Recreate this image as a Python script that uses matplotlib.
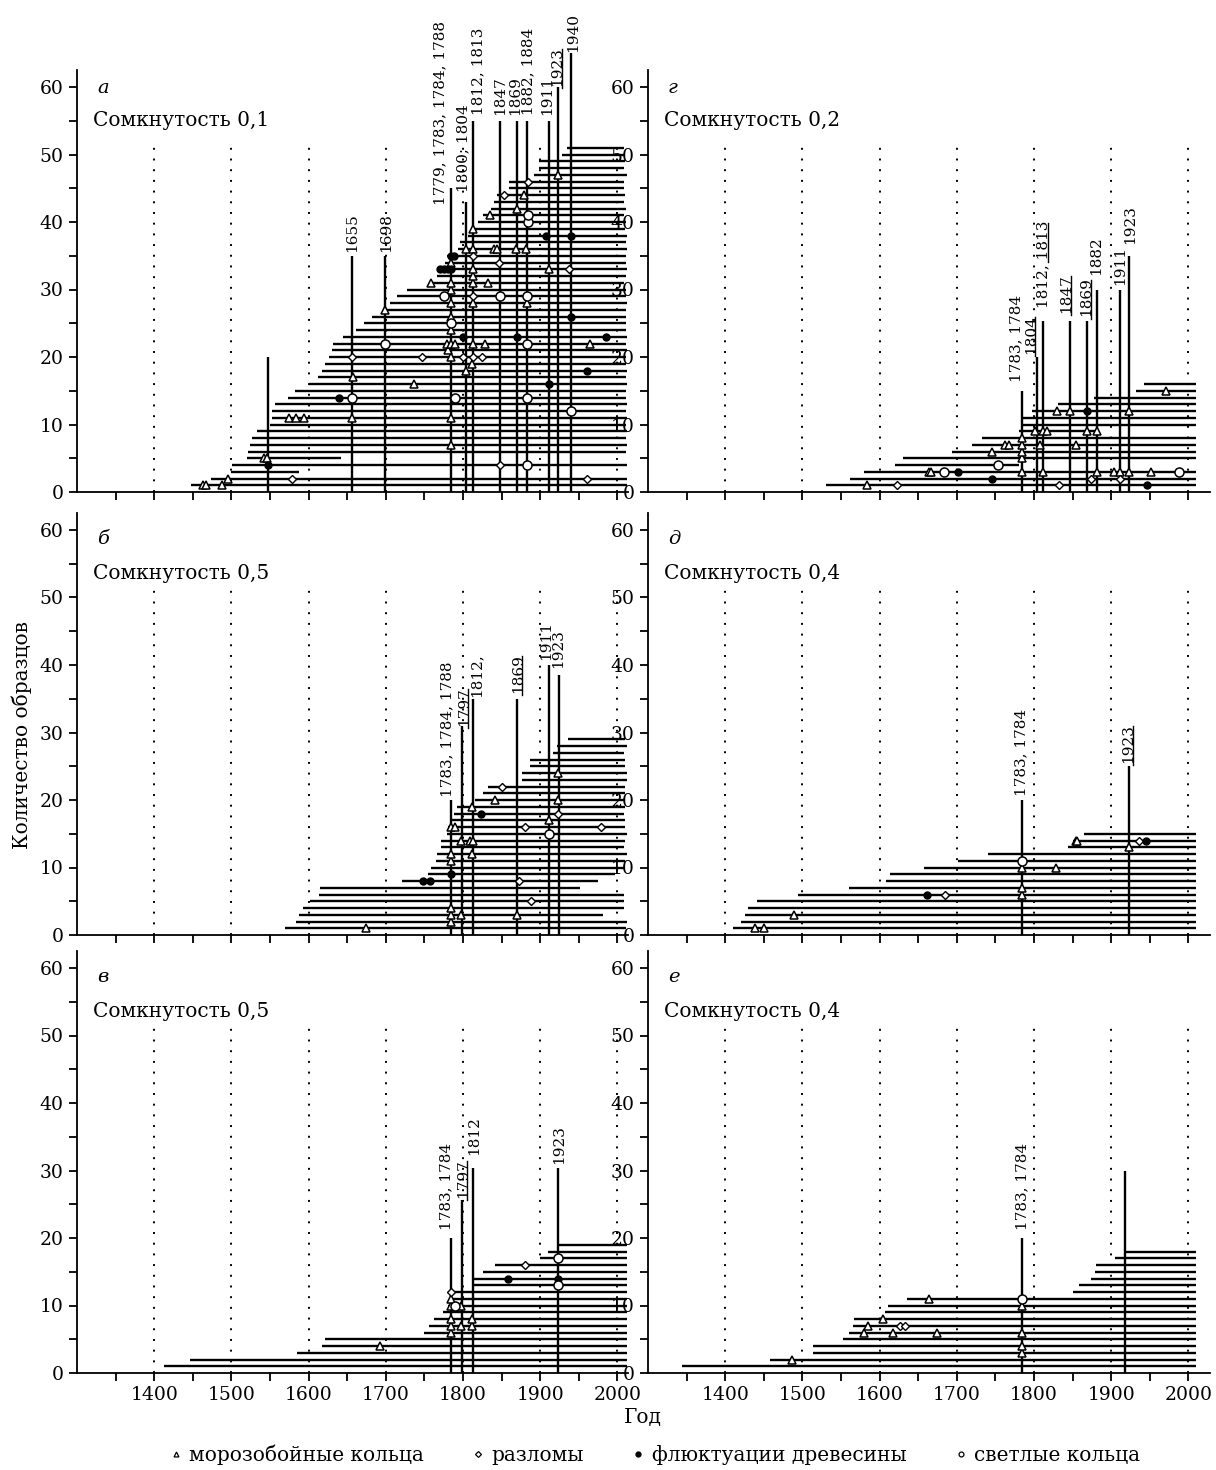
"""
Frost rings / fractures / wood fluctuations / light rings by sample,
six stands (а-е), rebuilt with matplotlib.
"""
import matplotlib
matplotlib.use("Agg")
import matplotlib.pyplot as plt
from matplotlib.lines import Line2D

plt.rcParams["font.family"] = ["DejaVu Serif"]

# ============================================================
# Panel а  (Сомкнутость 0,1)
# ============================================================
A_START = [1448, 1474, 1500, 1501, 1520, 1522, 1524, 1527, 1533, 1550,
           1553, 1553, 1556, 1573, 1583, 1600, 1612, 1618, 1621, 1626,
           1630, 1632, 1644, 1661, 1672, 1682, 1699, 1705, 1714, 1727,
           1757, 1766, 1768, 1777, 1779, 1794, 1796, 1807, 1811, 1820,
           1826, 1836, 1840, 1844, 1860, 1860, 1892, 1898, 1898, 1928, 1935]
A_END = [2012, 2012, 1588, 2012, 1642, 2011, 2012, 2011, 2012, 2011,
         2012, 2011, 2012, 2011, 2011, 2012, 2011, 2012, 2011, 2011,
         2012, 2011, 2012, 2011, 2011, 2011, 2011, 2012, 2011, 2011,
         2009, 2011, 2012, 2011, 2011, 2012, 2011, 2012, 2010, 2011,
         2009, 2011, 2009, 2010, 2009, 2009, 2012, 2009, 2010, 2010, 2008]
A_TRI_X = [1463, 1467, 1488, 1496, 1542, 1546, 1785,
           1575, 1584, 1594, 1656, 1784,
           1736, 1658, 1804, 1812, 1785, 1780,
           1779, 1784, 1789, 1813, 1829, 1965,
           1785, 1785, 1699, 1785, 1813, 1883,
           1785, 1759, 1785, 1813, 1833, 1813,
           1813, 1911, 1785,
           1804, 1813, 1840, 1844, 1869, 1882,
           1813, 1835, 1870, 1879, 1923]
A_TRI_Y = [1, 1, 1, 2, 5, 5, 7,
           11, 11, 11, 11, 11,
           16, 17, 18, 19, 20, 21,
           22, 22, 22, 22, 22, 22,
           24, 26, 27, 28, 28, 28,
           30, 31, 31, 31, 31, 32,
           33, 33, 34,
           36, 36, 36, 36, 36, 36,
           39, 41, 42, 44, 47]
A_DIA_X = [1579, 1960, 1848, 1656, 1747, 1800, 1813, 1824, 1813, 1937, 1847, 1813, 1853, 1884]
A_DIA_Y = [2, 2, 4, 20, 20, 20, 20, 20, 29, 33, 34, 35, 44, 46]
A_DOT_X = [1547, 1640, 1911, 1960, 1800, 1870, 1985, 1940, 1770, 1775, 1781, 1785, 1784, 1788, 1907, 1940]
A_DOT_Y = [4, 14, 16, 18, 23, 23, 23, 26, 33, 33, 33, 33, 35, 35, 38, 38]
A_CIR_X = [1883, 1940, 1656, 1789, 1883, 1699, 1883, 1785, 1776, 1848, 1883, 1884, 1884]
A_CIR_Y = [4, 12, 14, 14, 14, 22, 22, 25, 29, 29, 29, 40, 41]
A_EV_YEAR = [1547, 1656, 1699, 1784, 1804, 1813, 1848, 1870, 1883, 1911, 1923, 1940]
A_EV_TOP = [20, 35, 35, 45, 43, 55, 55, 55, 55, 55, 60, 65]
A_EV_TEXT = ["", "1655", "1698", "1779, 1783, 1784, 1788", "1800; 1804", "1812, 1813",
             "1847", "1869", "1882, 1884", "1911", "1923", "1940"]
A_EV_UNDER = ["", "", "", "", "", "", "", "", "", "", "1923", ""]

# ============================================================
# Panel б  (Сомкнутость 0,5)
# ============================================================
B_START = [1569, 1584, 1587, 1593, 1602, 1613, 1615, 1721, 1755, 1759,
           1765, 1766, 1771, 1772, 1779, 1780, 1785, 1788, 1792, 1815,
           1826, 1832, 1876, 1876, 1887, 1887, 1916, 1922, 1936]
B_END = [2011, 2012, 1981, 2008, 2008, 2009, 1951, 1975, 1997, 2009,
         2010, 2012, 2009, 2010, 2012, 2010, 2010, 2009, 2010, 2009,
         2010, 2010, 2012, 2012, 2010, 2010, 2009, 2012, 2010]
B_TRI_X = [1674, 1784, 1784, 1797, 1870, 1784, 1784, 1784, 1812, 1797,
           1809, 1813, 1784, 1789, 1911, 1812, 1841, 1923, 1923]
B_TRI_Y = [1, 2, 3, 3, 3, 4, 11, 12, 12, 14,
           14, 14, 16, 16, 17, 19, 20, 20, 24]
B_DIA_X = [1888, 1872, 1880, 1979, 1923, 1850]
B_DIA_Y = [5, 8, 16, 16, 18, 22]
B_DOT_X = [1748, 1757, 1784, 1823]
B_DOT_Y = [8, 8, 9, 18]
B_CIR_X = [1911]
B_CIR_Y = [15]
B_EV_YEAR = [1784, 1799, 1812.5, 1870, 1911, 1924]
B_EV_TOP = [20, 31, 35, 35, 40, 38.5]
B_EV_TEXT = ["1783, 1784, 1788", "1797", "1812,", "1869", "1911", "1923"]
B_EV_UNDER = ["", "1797", "", "1869", "", ""]

# ============================================================
# Panel в  (Сомкнутость 0,5)
# ============================================================
V_START = [1413, 1446, 1585, 1617, 1621, 1750, 1756, 1762, 1774, 1780,
           1783, 1788, 1813, 1813, 1826, 1842, 1900, 1910, 1923]
V_END = [2012, 2012, 2012, 2012, 2012, 2012, 2012, 2012, 2012, 2012,
         2012, 2012, 2012, 2012, 2012, 2012, 2012, 2012, 2012]
V_TRI_X = [1693, 1784, 1784, 1797, 1812, 1784, 1812, 1784, 1797, 1784]
V_TRI_Y = [4, 6, 7, 7, 7, 8, 8, 10, 10, 11]
V_DIA_X = [1784, 1880]
V_DIA_Y = [12, 16]
V_DOT_X = [1858, 1923]
V_DOT_Y = [14, 14]
V_CIR_X = [1790, 1923, 1923]
V_CIR_Y = [10, 13, 17]
V_EV_YEAR = [1784, 1799, 1812.5, 1923]
V_EV_TOP = [20, 25.6, 30.3, 30.3]
V_EV_TEXT = ["1783, 1784", "1797", "1812", "1923"]
V_EV_UNDER = ["", "1797", "", ""]

# ============================================================
# Panel г  (Сомкнутость 0,2)
# ============================================================
G_START = [1530, 1562, 1580, 1620, 1630, 1694, 1720, 1733, 1781, 1785,
           1785, 1798, 1831, 1878, 1932, 1943]
G_END = [2010, 2010, 2010, 1781, 2010, 2010, 2010, 2010, 1881, 2010,
         2010, 2010, 2010, 2010, 2010, 2010]
G_TRI_X = [1584, 1664, 1667, 1784, 1812, 1882, 1904, 1912, 1923, 1952,
           1784, 1746, 1784, 1763, 1768, 1784, 1808, 1854, 1784,
           1801, 1812, 1817, 1869, 1882, 1830, 1847, 1923, 1971]
G_TRI_Y = [1, 3, 3, 3, 3, 3, 3, 3, 3, 3,
           5, 6, 6, 7, 7, 7, 7, 7, 8,
           9, 9, 9, 9, 9, 12, 12, 12, 15]
G_DIA_X = [1622, 1832, 1874, 1912]
G_DIA_Y = [1, 1, 2, 2]
G_DOT_X = [1946, 1746, 1702, 1869]
G_DOT_Y = [1, 2, 3, 12]
G_CIR_X = [1684, 1988, 1754]
G_CIR_Y = [3, 3, 4]
G_EV_YEAR = [1784, 1804, 1812, 1847, 1869, 1882, 1912, 1923]
G_EV_TOP = [15, 20, 25.4, 25.4, 25.4, 30, 30, 35]
G_EV_TEXT = ["1783, 1784", "1804", "1812, 1813", "1847", "1869", "1882", "1911", "1923"]
G_EV_UNDER = ["", "1804", "1813", "1847", "1869", "", "", ""]

# ============================================================
# Panel д  (Сомкнутость 0,4)
# ============================================================
D_START = [1410, 1420, 1426, 1430, 1441, 1494, 1560, 1608, 1613, 1657,
           1702, 1740, 1844, 1851, 1865]
D_END = [2010, 2010, 2010, 2010, 2010, 2010, 2010, 2010, 2010, 2010,
         2010, 2010, 2010, 2010, 2010]
D_TRI_X = [1438, 1450, 1489, 1784, 1784, 1784, 1828, 1923, 1854, 1856]
D_TRI_Y = [1, 1, 3, 6, 7, 10, 10, 13, 14, 14]
D_DIA_X = [1685, 1936]
D_DIA_Y = [6, 14]
D_DOT_X = [1661, 1945]
D_DOT_Y = [6, 14]
D_CIR_X = [1784]
D_CIR_Y = [11]
D_EV_YEAR = [1784, 1923]
D_EV_TOP = [20, 25]
D_EV_TEXT = ["1783, 1784", "1923"]
D_EV_UNDER = ["", "1923"]

# ============================================================
# Panel е  (Сомкнутость 0,4)
# ============================================================
E_START = [1344, 1458, 1514, 1514, 1553, 1560, 1566, 1567, 1607, 1611,
           1636, 1851, 1858, 1874, 1879, 1880, 1905, 1919]
E_END = [2010, 2010, 2010, 2010, 2010, 2010, 2010, 2010, 2010, 2010,
         2010, 2010, 2010, 2010, 2010, 2010, 2010, 2010]
E_TRI_X = [1487, 1784, 1784, 1580, 1617, 1674, 1784, 1585, 1604, 1784, 1664]
E_TRI_Y = [2, 3, 4, 6, 6, 6, 6, 7, 8, 10, 11]
E_DIA_X = [1626, 1633]
E_DIA_Y = [7, 7]
E_DOT_X = []
E_DOT_Y = []
E_CIR_X = [1784]
E_CIR_Y = [11]
E_EV_YEAR = [1784, 1918]
E_EV_TOP = [20, 30]
E_EV_TEXT = ["1783, 1784", ""]
E_EV_UNDER = ["", ""]

LETTERS = ["а", "б", "в", "г", "д", "е"]
TITLES = ["Сомкнутость 0,1", "Сомкнутость 0,5", "Сомкнутость 0,5",
          "Сомкнутость 0,2", "Сомкнутость 0,4", "Сомкнутость 0,4"]
GRID_YEARS = [1400, 1500, 1600, 1700, 1800, 1900, 2000]
LEGEND_LABELS = ["морозобойные кольца", "разломы", "флюктуации древесины", "светлые кольца"]

# label placement (x in years, y = bottom of rotated text), layout only
A_LAB_X = [None, 1657, 1700, 1770, 1801, 1820, 1848, 1868, 1884, 1909, 1922, 1943]
A_LAB_Y = [None, 35.6, 35.6, 42.5, 44.5, 55.8, 55.8, 55.8, 55.8, 55.8, 60.2, 65.2]
B_LAB_X = [1780, 1801, 1818, 1871, 1908, 1923]
B_LAB_Y = [20.4, 31.0, 35.3, 35.8, 40.7, 39.5]
V_LAB_X = [1779, 1800, 1815, 1924]
V_LAB_Y = [21.2, 25.9, 32.3, 31.0]
G_LAB_X = [1777, 1796, 1812, 1842, 1868, 1881, 1912, 1925]
G_LAB_Y = [16.3, 20.5, 27.2, 26.5, 26.0, 32.1, 30.7, 36.8]
D_LAB_X = [1783, 1922]
D_LAB_Y = [20.6, 25.5]
E_LAB_X = [1785, None]
E_LAB_Y = [21.2, None]

PANELS = [
    (A_START, A_END, A_TRI_X, A_TRI_Y, A_DIA_X, A_DIA_Y, A_DOT_X, A_DOT_Y, A_CIR_X, A_CIR_Y,
     A_EV_YEAR, A_EV_TOP, A_EV_TEXT, A_EV_UNDER, A_LAB_X, A_LAB_Y),
    (B_START, B_END, B_TRI_X, B_TRI_Y, B_DIA_X, B_DIA_Y, B_DOT_X, B_DOT_Y, B_CIR_X, B_CIR_Y,
     B_EV_YEAR, B_EV_TOP, B_EV_TEXT, B_EV_UNDER, B_LAB_X, B_LAB_Y),
    (V_START, V_END, V_TRI_X, V_TRI_Y, V_DIA_X, V_DIA_Y, V_DOT_X, V_DOT_Y, V_CIR_X, V_CIR_Y,
     V_EV_YEAR, V_EV_TOP, V_EV_TEXT, V_EV_UNDER, V_LAB_X, V_LAB_Y),
    (G_START, G_END, G_TRI_X, G_TRI_Y, G_DIA_X, G_DIA_Y, G_DOT_X, G_DOT_Y, G_CIR_X, G_CIR_Y,
     G_EV_YEAR, G_EV_TOP, G_EV_TEXT, G_EV_UNDER, G_LAB_X, G_LAB_Y),
    (D_START, D_END, D_TRI_X, D_TRI_Y, D_DIA_X, D_DIA_Y, D_DOT_X, D_DOT_Y, D_CIR_X, D_CIR_Y,
     D_EV_YEAR, D_EV_TOP, D_EV_TEXT, D_EV_UNDER, D_LAB_X, D_LAB_Y),
    (E_START, E_END, E_TRI_X, E_TRI_Y, E_DIA_X, E_DIA_Y, E_DOT_X, E_DOT_Y, E_CIR_X, E_CIR_Y,
     E_EV_YEAR, E_EV_TOP, E_EV_TEXT, E_EV_UNDER, E_LAB_X, E_LAB_Y),
]

TRI_STYLE = dict(ls="none", marker="^", ms=5.5, mfc="white", mec="black", mew=1.1)
DIA_STYLE = dict(ls="none", marker="D", ms=4.0, mfc="white", mec="black", mew=1.0)
DOT_STYLE = dict(ls="none", marker="o", ms=5.0, mfc="black", mec="black", mew=1.0)
CIR_STYLE = dict(ls="none", marker="o", ms=6.5, mfc="white", mec="black", mew=1.1)
EV_FS = 11

W, H = 1216, 1470
fig = plt.figure(figsize=(W / 100, H / 100), dpi=100)
renderer = fig.canvas.get_renderer()

COL_LEFT = [77, 648]          # px of the y axis
COL_WIDTH = [551, 562]        # px
ROW_ZERO = [492, 935, 1373]   # px of y = 0
PX_PER_UNIT = 6.75
PX_PER_YEAR = 0.772
YTOP = 62.5
GRID_TOP = 51.4


def event_labels(ax, texts, unders, lab_x, lab_y):
    inv = ax.transData.inverted()
    for text, under, x, y in zip(texts, unders, lab_x, lab_y):
        if not text:
            continue
        t = ax.text(x, y, text, rotation=90, ha="center", va="bottom",
                    fontsize=EV_FS, clip_on=False, zorder=4)
        if under:
            bb = t.get_window_extent(renderer)
            tmp = ax.text(x, y, under, rotation=90, ha="center", va="bottom", fontsize=EV_FS)
            ub = tmp.get_window_extent(renderer)
            tmp.remove()
            (x0, y0), (x1, y1) = inv.transform([(bb.x0, bb.y0), (bb.x1, bb.y1)])
            (_, u0), (_, u1) = inv.transform([(bb.x0, ub.y0), (bb.x0, ub.y1)])
            ux = x1 - 0.18 * (x1 - x0)
            ax.plot([ux, ux], [y1 - (u1 - u0) - 0.3, y1 - 0.3], color="black",
                    lw=1.0, clip_on=False, zorder=4)


for i, panel in enumerate(PANELS):
    (start, end, tri_x, tri_y, dia_x, dia_y, dot_x, dot_y, cir_x, cir_y,
     ev_year, ev_top, ev_text, ev_under, lab_x, lab_y) = panel
    col, row = i // 3, i % 3
    left = COL_LEFT[col] / W
    width = COL_WIDTH[col] / W
    height = YTOP * PX_PER_UNIT / H
    bottom = (H - ROW_ZERO[row]) / H
    ax = fig.add_axes([left, bottom, width, height])
    ax.set_xlim(1300, 1300 + COL_WIDTH[col] / PX_PER_YEAR)
    ax.set_ylim(0, YTOP)

    # dotted century guides
    ax.vlines(GRID_YEARS, 0, GRID_TOP, colors="black", lw=1.4,
              linestyles=(0, (1, 4.5)), zorder=1)

    # sample spans
    ys = list(range(1, len(start) + 1))
    ax.hlines(ys, start, end, colors="black", lw=1.7, zorder=2)

    # event years
    ax.vlines(ev_year, 0, ev_top, colors="black", lw=1.7, zorder=2, clip_on=False)

    ax.plot(tri_x, tri_y, zorder=3, clip_on=False, **TRI_STYLE)
    ax.plot(dia_x, dia_y, zorder=3, clip_on=False, **DIA_STYLE)
    ax.plot(dot_x, dot_y, zorder=3, clip_on=False, **DOT_STYLE)
    ax.plot(cir_x, cir_y, zorder=3, clip_on=False, **CIR_STYLE)

    event_labels(ax, ev_text, ev_under, lab_x, lab_y)

    # panel captions
    ly, ty = (59.9, 55.0) if row == 0 else (58.6, 53.5)
    ax.text(1326, ly, LETTERS[i], fontsize=14, fontstyle="italic", va="center", ha="left")
    ax.text(1321, ty, TITLES[i], fontsize=14.5, va="center", ha="left")

    # axes look
    ax.spines["top"].set_visible(False)
    ax.spines["right"].set_visible(False)
    ax.spines["left"].set_linewidth(1.3)
    ax.spines["bottom"].set_linewidth(1.3)
    ax.set_yticks([0, 10, 20, 30, 40, 50, 60])
    ax.set_yticks([5, 15, 25, 35, 45, 55], minor=True)
    ax.set_xticks(GRID_YEARS)
    ax.set_xticks([1350, 1450, 1550, 1650, 1750, 1850, 1950], minor=True)
    ax.tick_params(which="both", direction="out", length=6, width=1.3, labelsize=13.5)
    if row != 2:
        ax.tick_params(labelbottom=False)

fig.text(22 / W, 0.5, "Количество образцов", rotation=90, fontsize=14.5,
         ha="center", va="center")
fig.text(643 / W, 1 - 1418 / H, "Год", fontsize=14.5, ha="center", va="center")

handles = [Line2D([], [], ls="none", marker="^", ms=3.5, mfc="white", mec="black", mew=0.9),
           Line2D([], [], ls="none", marker="D", ms=3.0, mfc="white", mec="black", mew=0.9),
           Line2D([], [], ls="none", marker="o", ms=3.5, mfc="black", mec="black"),
           Line2D([], [], ls="none", marker="o", ms=3.5, mfc="white", mec="black", mew=0.9)]
fig.legend(handles, LEGEND_LABELS, loc="center", bbox_to_anchor=(655 / W, 1 - 1455 / H),
           ncol=4, frameon=False, fontsize=14.5, handlelength=0.6, handletextpad=0.35,
           columnspacing=2.4, borderpad=0)

fig.savefig("out.png", dpi=100)
